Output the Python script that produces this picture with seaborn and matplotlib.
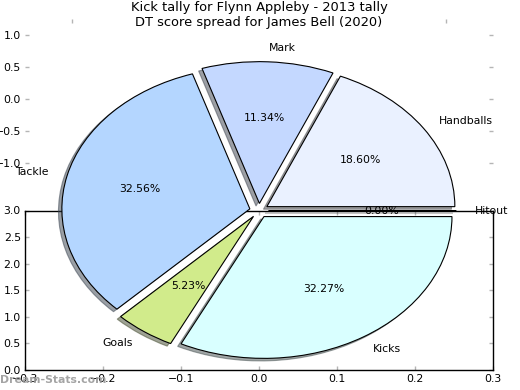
import matplotlib
matplotlib.use("Agg")
import matplotlib.pyplot as plt
import seaborn as sns

# ---- data ----
categories = ["Handballs", "Mark", "Tackle", "Goals", "Kicks", "Hitout"]
shares = [18.60, 11.34, 32.56, 5.23, 32.27, 0.00]
slice_colors = ["#eaf1ff", "#c4d8ff", "#b4d6ff", "#d1eb8b", "#d9ffff", "#ffffff"]
title_lines = ["Kick tally for Flynn Appleby - 2013 tally",
               "DT score spread for James Bell (2020)"]
top_yticks = [1.0, 0.5, 0.0, -0.5, -1.0]
top_xticks = [-1.0, -0.5, 0.0, 0.5, 1.0]
bottom_yticks = [0.0, 0.5, 1.0, 1.5, 2.0, 2.5, 3.0]
bottom_xticks = [-0.3, -0.2, -0.1, 0.0, 0.1, 0.2, 0.3]
watermark = "Dream-Stats.com"

sns.set_style("white")
plt.rcParams['font.family'] = ['DejaVu Sans']
plt.rcParams['font.size'] = 7.8
plt.rcParams['text.color'] = 'black'

W, H = 520, 390
fig = plt.figure(figsize=(W / 100, H / 100), dpi=100)
fig.patch.set_facecolor('white')


def box(l, t, r, b):
    return [l / W, 1 - b / H, (r - l) / W, (b - t) / H]


tick_gray = '#b5b5b5'

# upper (frameless) axes with ticks only
ax_top = fig.add_axes(box(25, 18.8, 493, 179.2))
ax_top.set_xlim(-1.25, 1.25)
ax_top.set_ylim(-1.25, 1.25)
ax_top.set_yticks(top_yticks)
ax_top.set_xticks(top_xticks)
ax_top.set_xticklabels([])
for s in ax_top.spines.values():
    s.set_visible(False)
ax_top.patch.set_visible(False)
ax_top.tick_params(axis='both', which='both', direction='in', length=3, width=1,
                   color=tick_gray, labelcolor='black', pad=3,
                   left=True, right=True, top=True, bottom=False,
                   labelleft=True, labelbottom=False)

# lower framed axes
ax_bot = fig.add_axes(box(25, 210.5, 493, 370))
ax_bot.set_xlim(-0.3, 0.3)
ax_bot.set_ylim(0, 3)
ax_bot.set_xticks(bottom_xticks)
ax_bot.set_yticks(bottom_yticks)
for s in ax_bot.spines.values():
    s.set_visible(True)
    s.set_color('black')
    s.set_linewidth(1.0)
ax_bot.tick_params(axis='both', which='both', direction='in', length=3, width=1,
                   color=tick_gray, labelcolor='black', pad=3,
                   left=True, right=True, top=True, bottom=True)

# pie axes, transparent, drawn on top
ax_pie = fig.add_axes(box(24, 33.3, 494, 387.8))
ax_pie.pie(shares, labels=categories, colors=slice_colors,
           explode=[0.05] * len(shares), autopct='%1.2f%%',
           shadow=dict(ox=-0.013, oy=-0.013),
           startangle=0, labeldistance=1.1, pctdistance=0.6,
           wedgeprops=dict(edgecolor='black', linewidth=0.8),
           textprops=dict(fontsize=7.8, color='black'))
ax_pie.set_aspect('auto')
ax_pie.set_xlim(-1.25, 1.25)
ax_pie.set_ylim(-1.25, 1.25)
ax_pie.set_axis_off()
ax_pie.patch.set_visible(False)
ax_pie.set_title("\n".join(title_lines), fontsize=9.4, color='black', pad=5)

fig.text(0.0, 1 - 380 / H, watermark, color='#9a9a9a', fontweight='bold',
         fontsize=7.8, ha='left', va='center', alpha=0.9)

fig.savefig("out.png", dpi=100, facecolor='white')
